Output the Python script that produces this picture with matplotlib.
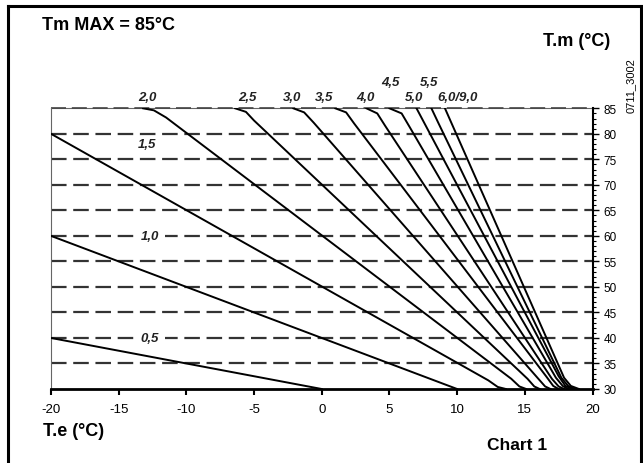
import matplotlib
matplotlib.use("Agg")
import matplotlib.pyplot as plt
from matplotlib.ticker import MultipleLocator
from matplotlib.lines import Line2D

plt.rcParams['font.family'] = ['Liberation Sans', 'DejaVu Sans']
plt.rcParams['axes.unicode_minus'] = False

# Heating curves: outside temp T.e vs flow temp T.m
curve_names = ["0,5", "1,0", "1,5", "2,0", "2,5", "3,0", "3,5", "4,0", "4,5", "5,0", "5,5", "6,0/9,0"]
curve_te = [
    [-20, 0],
    [-20, 10],
    [-20, 12.3, 13.0, 13.6],
    [-13.2, -12.4, -11.5, 14.0, 14.6, 15.1],
    [-6.4, -5.6, -5.0, 15.2, 15.7, 16.1],
    [-2.1, -1.3, -0.6, 16.0, 16.5, 16.9],
    [1.0, 1.8, 2.4, 16.6, 17.1, 17.5],
    [3.3, 4.1, 4.7, 17.0, 17.5, 17.9],
    [5.0, 5.9, 6.5, 17.3, 17.8, 18.2],
    [7.0, 7.5, 17.5, 18.0, 18.5],
    [8.1, 8.6, 17.7, 18.2, 18.7],
    [9.1, 9.6, 17.9, 18.4, 19.0],
]
curve_tm = [
    [40, 30],
    [60, 30],
    [80, 31.7, 30.4, 30],
    [85, 84.6, 83.2, 32.0, 30.5, 30],
    [85, 84.3, 82.6, 32.0, 30.5, 30],
    [85, 84.2, 82.2, 32.0, 30.5, 30],
    [85, 84.2, 82.0, 32.4, 30.6, 30],
    [85, 84.0, 81.5, 32.0, 30.5, 30],
    [85, 84.0, 81.3, 32.2, 30.6, 30],
    [85, 82.5, 32.5, 30.6, 30],
    [85, 82.2, 32.2, 30.6, 30],
    [85, 82.0, 32.2, 30.6, 30],
]

# label anchor positions (data coords) for each curve name
label_x = [-12.7, -12.7, -12.9, -12.9, -5.5, -2.2, 0.2, 3.2, 5.1, 6.8, 7.9, 10.0]
label_y = [40, 60, 78, 87.2, 87.2, 87.2, 87.2, 87.2, 90.2, 87.2, 90.2, 87.2]

grid_levels = [35, 40, 45, 50, 55, 60, 65, 70, 75, 80, 85]
x_ticks = [-20, -15, -10, -5, 0, 5, 10, 15, 20]
y_ticks = [30, 35, 40, 45, 50, 55, 60, 65, 70, 75, 80, 85]

W, H = 643, 464
fig = plt.figure(figsize=(W / 100, H / 100), dpi=100)
ax = fig.add_axes([51 / W, 1 - 390 / H, (592.5 - 51) / W, (390 - 109.3) / H])

# dashed reference lines
for lvl in grid_levels:
    if lvl == 85:
        ax.axhline(lvl, color='#666666', lw=0.8, clip_on=False, zorder=1)
        ax.axhline(lvl, color='#444444', lw=1.2, dashes=(9, 3.5), clip_on=False, zorder=1)
    else:
        ax.axhline(lvl, color='#333333', lw=1.6, dashes=(7, 3), zorder=1)

for te, tm in zip(curve_te, curve_tm):
    ax.plot(te, tm, color='black', lw=1.4, solid_joinstyle='round', zorder=3)

for name, lx, ly in zip(curve_names, label_x, label_y):
    if ly < 85:
        box = dict(facecolor='white', edgecolor='none', pad=4) if ly in (40, 60) else None
        ax.text(lx, ly, name, ha='center', va='center', fontsize=9.5, fontstyle='italic',
                fontweight='bold', color='#222222', bbox=box, zorder=4)
    else:
        ax.text(lx, ly, name, ha='center', va='center', fontsize=9.5, fontstyle='italic',
                fontweight='bold', color='#222222', clip_on=False)

ax.set_xlim(-20, 20)
ax.set_ylim(30, 85)
ax.set_xticks(x_ticks)
ax.set_yticks(y_ticks)
ax.yaxis.set_minor_locator(MultipleLocator(1))
ax.yaxis.tick_right()
ax.tick_params(axis='x', direction='out', length=4, width=1.5, pad=6, labelsize=9.5, colors='black')
ax.tick_params(axis='y', which='major', direction='out', length=4, width=1, pad=4, labelsize=8.5)
ax.tick_params(axis='y', which='minor', direction='out', length=2.5, width=0.8)
ax.tick_params(axis='x', which='minor', bottom=False)

ax.spines['left'].set_color('#666666')
ax.spines['left'].set_linewidth(0.8)
ax.spines['top'].set_visible(False)
ax.spines['bottom'].set_linewidth(2)
ax.spines['right'].set_linewidth(1.5)

# outer frame
fig.add_artist(Line2D([8 / W, 8 / W], [0, 1 - 7 / H], color='black', lw=2.2))
fig.add_artist(Line2D([8 / W, 641 / W], [1 - 7 / H, 1 - 7 / H], color='black', lw=2.2))
fig.add_artist(Line2D([641 / W, 641 / W], [0, 1 - 7 / H], color='black', lw=2.2))

fig.text(42 / W, 1 - 25 / H, "Tm MAX = 85°C", fontsize=13, fontweight='bold', va='center', ha='left')
fig.text(543 / W, 1 - 42 / H, "T.m (°C)", fontsize=13, fontweight='bold', va='center', ha='left')
fig.text(43 / W, 1 - 432 / H, "T.e (°C)", fontsize=13, fontweight='bold', va='center', ha='left')
fig.text(487 / W, 1 - 446 / H, "Chart 1", fontsize=12.5, fontweight='bold', va='center', ha='left')
fig.text(631 / W, 1 - 86 / H, "0711_3002", fontsize=8, rotation=90, va='center', ha='center')

fig.savefig("out.png", dpi=100)
